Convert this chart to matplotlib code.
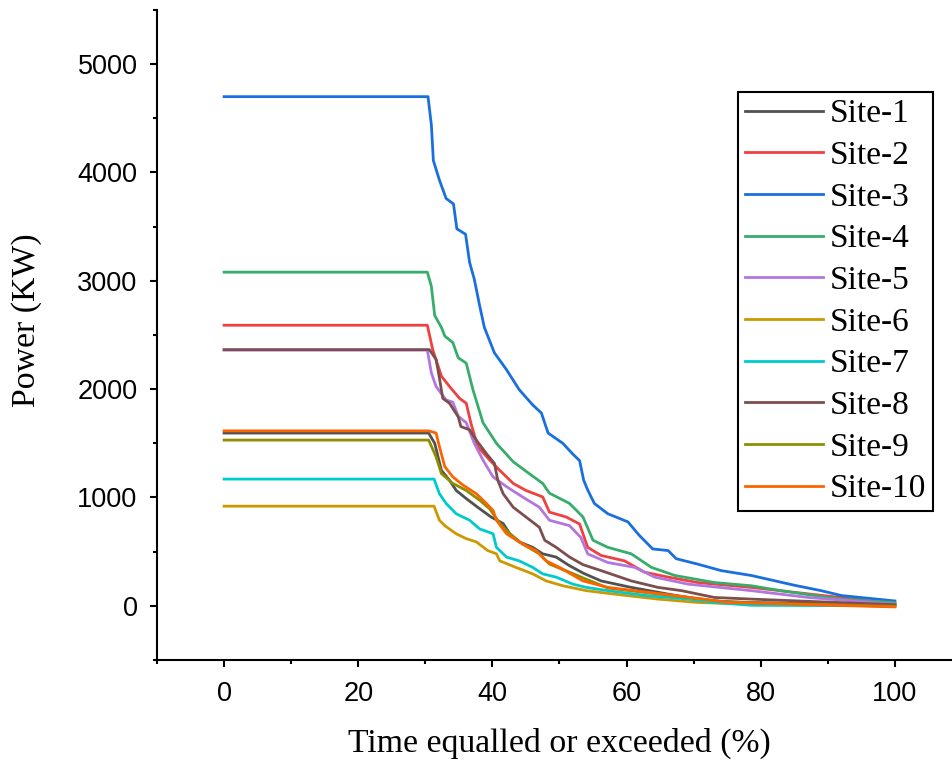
import matplotlib
matplotlib.use('Agg')
import matplotlib.pyplot as plt
from matplotlib.ticker import MultipleLocator

# Flow duration curves
site1_x = [0, 30.5, 31.4, 32.4, 33.6, 34.6, 36.1, 37.8, 39.8, 41.6, 42.6, 44.0, 46.0, 47.5, 49.5, 51.5, 53.6, 56.2, 60.7, 66.2, 72.1, 78.6, 100]
site1_y = [1595, 1595, 1500, 1250, 1160, 1065, 990, 910, 820, 760, 665, 590, 540, 480, 450, 370, 300, 230, 170, 108, 46, 30, 10]

site2_x = [0, 30.3, 31.1, 32.4, 33.6, 35.1, 36.1, 36.8, 37.8, 39.6, 41.1, 43.1, 45.0, 47.5, 48.5, 51.0, 53.0, 54.2, 56.2, 59.7, 62.7, 66.2, 70.6, 78.6, 87.1, 100]
site2_y = [2590, 2590, 2365, 2120, 2025, 1915, 1870, 1685, 1470, 1345, 1250, 1130, 1065, 1005, 865, 820, 755, 540, 465, 415, 310, 265, 215, 170, 110, 20]

site3_x = [0, 30.4, 30.9, 31.2, 32.1, 33.1, 34.2, 34.7, 36.0, 36.6, 37.3, 38.1, 38.8, 40.3, 42.1, 44.0, 46.0, 47.3, 48.3, 50.5, 52.0, 53.0, 53.6, 54.2, 55.2, 57.2, 60.2, 61.9, 63.9, 66.2, 67.4, 70.6, 74.1, 78.6, 81.1, 85.0, 89.0, 92.0, 96.0, 100]
site3_y = [4700, 4700, 4440, 4110, 3930, 3760, 3710, 3480, 3430, 3170, 3015, 2770, 2570, 2335, 2180, 1995, 1855, 1780, 1595, 1500, 1400, 1340, 1160, 1070, 945, 850, 775, 650, 525, 510, 435, 385, 325, 280, 245, 190, 140, 95, 70, 45]

site4_x = [0, 30.3, 30.9, 31.4, 32.4, 32.9, 34.1, 34.9, 36.1, 37.1, 38.6, 40.6, 43.1, 45.5, 47.5, 48.5, 51.5, 53.5, 55.0, 57.2, 60.7, 63.7, 67.2, 73.1, 78.6, 83.0, 92.0, 100]
site4_y = [3080, 3080, 2950, 2680, 2570, 2490, 2430, 2290, 2240, 1995, 1690, 1500, 1330, 1220, 1130, 1040, 945, 820, 605, 540, 480, 355, 280, 215, 185, 140, 60, 30]

site5_x = [0, 30.3, 30.9, 31.6, 33.1, 34.1, 34.9, 36.1, 37.3, 38.6, 40.1, 42.1, 44.5, 47.0, 48.5, 51.5, 53.2, 54.2, 57.2, 61.2, 64.2, 69.2, 78.6, 87.1, 100]
site5_y = [2360, 2360, 2150, 2025, 1900, 1880, 1750, 1690, 1500, 1345, 1190, 1100, 1005, 910, 790, 740, 630, 480, 400, 355, 265, 200, 140, 77, 15]

site6_x = [0, 31.3, 32.1, 32.9, 34.6, 36.1, 37.6, 39.3, 40.6, 41.1, 43.5, 46.0, 48.0, 50.5, 54.0, 58.2, 64.7, 70.6, 78.6, 100]
site6_y = [920, 920, 790, 740, 665, 620, 590, 510, 480, 415, 355, 295, 230, 185, 140, 108, 62, 31, 15, 0]

site7_x = [0, 31.3, 32.1, 33.1, 34.6, 36.6, 38.1, 40.1, 40.6, 42.1, 44.0, 46.0, 47.5, 49.5, 52.0, 54.0, 57.2, 63.2, 69.2, 73.1, 78.6, 100]
site7_y = [1170, 1170, 1035, 945, 850, 790, 710, 665, 540, 450, 415, 355, 295, 265, 200, 170, 140, 93, 62, 31, 5, 0]

site8_x = [0, 30.6, 31.6, 32.1, 32.6, 33.6, 34.9, 35.3, 36.6, 37.6, 39.1, 40.3, 40.8, 41.6, 43.1, 45.0, 47.0, 47.8, 49.5, 51.5, 53.5, 56.2, 60.7, 64.7, 68.2, 73.1, 78.6, 100]
site8_y = [2365, 2365, 2275, 2105, 1915, 1870, 1745, 1655, 1625, 1530, 1405, 1315, 1160, 1035, 910, 820, 725, 605, 540, 450, 380, 325, 230, 170, 140, 77, 62, 10]

site9_x = [0, 30.5, 31.6, 32.4, 34.1, 36.1, 38.1, 39.6, 41.1, 42.6, 44.5, 47.0, 48.5, 51.5, 54.0, 57.2, 63.2, 70.0, 75.0, 79.0, 100]
site9_y = [1530, 1530, 1375, 1220, 1130, 1065, 975, 895, 760, 665, 570, 480, 385, 310, 245, 165, 120, 72, 35, 28, -5]

site10_x = [0, 30.5, 31.6, 32.1, 32.9, 34.1, 35.6, 37.6, 39.1, 40.1, 40.6, 42.1, 44.5, 46.5, 48.0, 50.0, 53.5, 57.2, 63.2, 69.5, 75.1, 79.0, 100]
site10_y = [1615, 1615, 1595, 1470, 1285, 1190, 1115, 1035, 945, 880, 790, 665, 570, 510, 415, 355, 230, 170, 125, 77, 31, 25, -10]

labels = ['Site-1', 'Site-2', 'Site-3', 'Site-4', 'Site-5',
          'Site-6', 'Site-7', 'Site-8', 'Site-9', 'Site-10']
xs = [site1_x, site2_x, site3_x, site4_x, site5_x, site6_x, site7_x, site8_x, site9_x, site10_x]
ys = [site1_y, site2_y, site3_y, site4_y, site5_y, site6_y, site7_y, site8_y, site9_y, site10_y]

# Origin "Bright" palette
colors = ['#515151', '#F14040', '#1A6FDF', '#37AD6B', '#B177DE',
          '#CC9900', '#00CBCC', '#7D4E4E', '#8E8E00', '#FB6501']

fig = plt.figure(figsize=(9.52, 7.63), dpi=100)
ax = fig.add_axes([0.1649, 0.135, 0.8456, 0.8519])

for x, y, c, lab in zip(xs, ys, colors, labels):
    ax.plot(x, y, color=c, linewidth=2.0, label=lab)

ax.set_xlim(-10, 110)
ax.set_ylim(-500, 5500)

# Axis styling (Origin look: left/bottom only, ticks outside)
for side in ['top', 'right']:
    ax.spines[side].set_visible(False)
for side in ['left', 'bottom']:
    ax.spines[side].set_linewidth(1.5)

ax.xaxis.set_major_locator(MultipleLocator(20))
ax.xaxis.set_minor_locator(MultipleLocator(10))
ax.yaxis.set_major_locator(MultipleLocator(1000))
ax.yaxis.set_minor_locator(MultipleLocator(500))
ax.tick_params(which='major', direction='out', length=5, width=1.5, pad=10,
               labelsize=19.5)
ax.tick_params(axis='y', which='major', pad=9)
ax.tick_params(which='minor', direction='out', length=3, width=1.5)
for lbl in ax.get_xticklabels() + ax.get_yticklabels():
    lbl.set_fontfamily('Liberation Sans')

ax.set_xlabel('Time equalled or exceeded (%)', fontsize=24.3, family='Liberation Serif')
ax.set_ylabel('Power (KW)', fontsize=24.3, family='Liberation Serif')
ax.xaxis.set_label_coords(0.5, -0.105)
ax.yaxis.set_label_coords(-0.143, 0.523)

leg = ax.legend(loc='upper left', bbox_to_anchor=(0.7217, 0.8738), borderaxespad=0,
                fancybox=False, framealpha=1, edgecolor='black',
                prop={'family': 'Liberation Serif', 'size': 24},
                handlelength=2.36, handletextpad=0.2, labelspacing=0.335,
                borderpad=0.2)
leg.get_frame().set_linewidth(1.5)

fig.savefig('out.png', dpi=100)
